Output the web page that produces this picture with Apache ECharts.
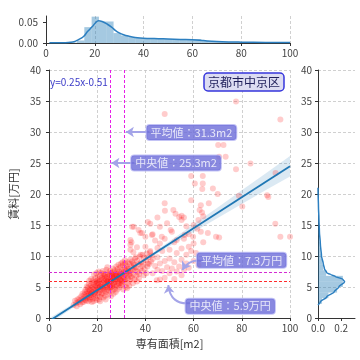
<!DOCTYPE html>
<html><head><meta charset="utf-8">
<script src="https://cdn.jsdelivr.net/npm/echarts@6/dist/echarts.min.js"></script>
<style>html,body{margin:0;padding:0;background:#fff}#c{width:360px;height:360px}</style>
</head><body><div id="c"></div><script>
// ---- data ----
const clusterPoints = [
[10.2,2.1],[10.8,2.8],[11.3,2.4],[11.8,3.0],[11.5,1.9],[12.2,2.6],[12.6,3.2],[12.9,2.2],
[13.1,2.9],[13.4,3.5],[13.7,2.5],[13.9,3.9],[14.1,3.1],[14.3,2.6],[14.6,3.7],[14.8,4.2],[14.9,2.9],
[15.0,3.4],[15.2,4.6],[15.4,2.8],[15.5,3.9],[15.7,5.1],[15.8,3.2],[15.9,4.3],
[16.0,3.6],[16.1,4.9],[16.3,2.7],[16.4,4.1],[16.5,5.5],[16.6,3.3],[16.8,4.6],[16.9,3.9],[16.7,6.0],
[17.0,3.0],[17.1,4.4],[17.2,5.2],[17.3,3.7],[17.5,6.3],[17.6,4.0],[17.7,4.8],[17.8,2.6],[17.9,5.6],[17.4,3.4],
[18.0,4.2],[18.1,5.0],[18.2,3.1],[18.3,6.1],[18.4,4.6],[18.5,3.6],[18.6,5.4],[18.7,7.0],[18.8,4.0],[18.9,5.8],[18.5,2.7],
[19.0,3.8],[19.1,4.8],[19.2,6.4],[19.3,3.2],[19.4,5.2],[19.5,4.4],[19.6,7.2],[19.7,5.6],[19.8,2.9],[19.9,6.0],[19.3,4.1],
[20.0,5.0],[20.1,3.5],[20.2,6.6],[20.3,4.5],[20.4,5.4],[20.5,7.5],[20.6,4.0],[20.7,5.9],[20.8,3.0],[20.9,6.3],[20.5,4.8],[20.2,5.7],
[21.0,4.2],[21.1,6.8],[21.2,5.1],[21.3,3.4],[21.4,6.0],[21.5,4.6],[21.6,7.3],[21.7,5.5],[21.8,3.8],[21.9,6.5],[21.4,5.0],[21.2,2.7],
[22.0,5.3],[22.1,4.0],[22.2,6.2],[22.3,7.6],[22.4,4.8],[22.5,5.7],[22.6,3.3],[22.7,6.8],[22.8,4.4],[22.9,5.9],[22.5,7.1],[22.3,5.0],
[23.0,4.6],[23.1,6.4],[23.2,5.4],[23.3,3.6],[23.4,7.0],[23.5,5.0],[23.6,6.1],[23.7,4.2],[23.8,7.8],[23.9,5.7],[23.5,3.0],[23.2,6.7],
[24.0,5.2],[24.1,6.6],[24.2,4.5],[24.3,5.9],[24.4,7.3],[24.5,3.8],[24.6,6.3],[24.7,5.5],[24.8,4.9],[24.9,7.0],[24.4,6.0],[24.2,8.2],
[25.0,5.8],[25.1,4.3],[25.2,6.9],[25.3,5.3],[25.4,7.6],[25.5,4.8],[25.6,6.2],[25.7,3.5],[25.8,5.9],[25.9,7.2],[25.5,6.5],[25.3,5.0],
[26.0,6.0],[26.1,5.0],[26.2,7.0],[26.3,4.4],[26.4,6.6],[26.5,8.0],[26.6,5.6],[26.7,6.3],[26.8,3.9],[26.9,7.4],[26.4,5.3],[26.2,6.8],
[27.0,5.4],[27.1,6.5],[27.2,7.7],[27.3,4.7],[27.4,6.1],[27.5,5.8],[27.6,7.1],[27.7,4.2],[27.8,6.8],[27.9,8.3],[27.5,5.1],[27.3,6.9],
[28.0,6.2],[28.1,5.2],[28.2,7.4],[28.3,6.7],[28.4,4.6],[28.5,7.9],[28.6,5.9],[28.7,6.4],[28.8,8.6],[28.9,5.5],[28.5,7.0],
[29.0,6.6],[29.1,5.6],[29.2,7.5],[29.3,4.9],[29.4,6.9],[29.5,8.2],[29.6,6.1],[29.7,7.2],[29.8,5.3],[29.9,8.8],[29.5,6.3],
[30.0,7.0],[30.2,6.0],[30.3,7.8],[30.4,5.4],[30.5,6.6],[30.6,8.5],[30.7,7.3],[30.8,4.6],[30.9,6.3],[30.5,9.0],[30.1,5.7],
[31.0,7.4],[31.2,6.5],[31.3,8.1],[31.4,5.8],[31.5,7.0],[31.6,8.8],[31.7,6.2],[31.8,7.7],[31.9,5.0],[31.5,9.3],
[32.0,7.2],[32.2,8.4],[32.3,6.8],[32.5,7.9],[32.6,5.6],[32.7,9.0],[32.8,6.4],[32.9,7.5],[32.4,4.8],
[33.0,8.0],[33.2,7.0],[33.4,8.7],[33.5,6.1],[33.6,7.6],[33.8,9.4],[33.9,6.7],[33.3,5.2],
[34.0,7.3],[34.2,8.3],[34.4,6.5],[34.5,9.1],[34.7,7.8],[34.8,5.6],[34.9,8.8],
[35.0,7.0],[35.3,8.6],[35.5,6.2],[35.7,9.6],[35.9,7.7],[35.4,8.1],
[36.1,8.2],[36.3,6.8],[36.6,9.2],[36.8,7.4],[36.5,5.9],
[37.1,8.7],[37.4,7.1],[37.7,9.9],[37.9,8.0],[37.3,6.4],
[38.2,9.0],[38.5,7.6],[38.8,10.2],[38.6,8.4],
[39.1,8.8],[39.4,9.7],[39.7,7.9],[39.3,6.9],
[40.2,9.3],[40.5,10.4],[40.8,8.3],[40.4,7.2],
[41.3,9.8],[41.6,8.7],[41.9,10.6],[42.3,9.1],[42.7,10.1]
];
const sparsePoints = [
[48,32.9],[77.6,34.9],[96,32],[70.2,27.9],[72.4,27.9],[70.6,26],[73.3,26],[83.6,24.9],[77.6,24],[94,23.4],
[59,22.9],[63.8,22.9],[60.5,21.7],[63.8,21.7],[68,20.9],[63.6,20.8],[70,20],[66.3,18.5],[90.5,19.8],[91,19.5],
[78.8,19.7],[80.2,18],[93.9,15.2],[96,13.1],[100,13.1],[69.3,13.1],[63,18.2],[59,19],[48,18.5],[48.1,17.3],
[51.6,17.4],[52.5,16.8],[55,16.5],[56,16.2],[62.5,17.4],[63.5,17],[64,16.4],[54,16.3],[55,15.8],[41,15.5],
[42,15.2],[46,14.7],[50.5,14.2],[51,13.9],[63,13.9],[61.5,14.4],[70.6,13],[53,12.6],[37.2,14.2],[34.5,14.7],
[35.2,14.7],[37.9,13.7],[38.6,13.7],[43,13.5],[33.8,12.6],[33.8,11.8],[33.8,11],[44,12.5],[46,12],[48,12.8],
[52,12.2],[56,12.8],[58,11.5],[60,12],[45,11.3],[47,10.8],[50,11],[53,10.5],[55,11.2],[57,10.2],
[59,10.8],[61,10.5],[40,11.5],[42,10.8],[38,10.2],[36,9.8],[43,9.5],[45,9.8],[48,9.2],[50,9.6],
[52,9],[55,9.4],[57,8.8],[60,9.2],[62,8.5],[41,8.8],[44,8.4],[46,8.8],[49,8.2],[51,8],
[54,8.3],[56,7.8],[58,8.1],[47,7.6],[50,7.2],[53,7.5],[55,6.9],[44.7,6.1],[46,6.2],[48,6.5],
[52,6.3],[43,7.2],[45,7.8],[64,12.2],[58,13.5],[60,15],[45,16.2],[49,15.3],[57,14.8],[62,15.8],
[40,13.1],[42.7,13.4],[46.8,13.1],[56.3,13.4],[59.8,13.1],[65.9,13.7],[34.2,12.2],[35,10.6],[36.5,11.4]
];
// histogram of area: [from, to, density]
const areaHistBins = [
[9.7,12.7,0.001],[12.7,15.7,0.006],[15.7,18.7,0.0376],[18.7,21.7,0.0625],[21.7,24.7,0.051],[24.7,27.7,0.051],
[27.7,30.7,0.0235],[30.7,33.7,0.018],[33.7,36.7,0.014],[36.7,39.7,0.012],[39.7,42.7,0.011],[42.7,45.7,0.0105],
[45.7,48.7,0.010],[48.7,51.7,0.0095],[51.7,54.7,0.009],[54.7,57.7,0.0085],[57.7,60.7,0.008],[60.7,63.7,0.0094],
[63.7,66.7,0.0054],[66.7,69.7,0.004],[69.7,72.7,0.003],[72.7,75.7,0.0025],[75.7,78.7,0.0022],[78.7,81.7,0.002],
[81.7,84.7,0.0016],[84.7,87.7,0.0014],[87.7,90.7,0.0012],[90.7,93.7,0.0013],[93.7,96.7,0.0011],[96.7,99.7,0.001]
];
const areaKde = [
[1.4,0.0005],[5,0.0006],[8,0.0008],[10,0.0015],[11.5,0.003],[13,0.007],[15.4,0.0155],[17,0.027],[19,0.039],
[20.3,0.048],[21.5,0.053],[23,0.051],[25,0.045],[27,0.037],[28.4,0.03],[30,0.024],[31.8,0.0195],[34,0.016],
[36.5,0.013],[38.6,0.0117],[42,0.0108],[46,0.0102],[50,0.0095],[55,0.0085],[60,0.0078],[63,0.0068],[66,0.005],
[70,0.0035],[75,0.0025],[80,0.002],[90,0.0013],[100,0.001]
];
// histogram of rent: [from, to, density]
const rentHistBins = [
[2.3,3.2,0.035],[3.2,4.1,0.09],[4.1,5.0,0.165],[5.0,5.9,0.215],[5.9,6.8,0.215],[6.8,7.7,0.07],[7.7,8.6,0.045],
[8.6,9.5,0.035],[9.5,10.4,0.025],[10.4,11.3,0.02],[11.3,12.2,0.015],[12.2,13.1,0.012],[13.1,14.0,0.01],
[14.0,14.9,0.008],[14.9,15.8,0.007],[15.8,16.7,0.005],[16.7,17.6,0.004],[17.6,18.5,0.003],[18.5,19.4,0.002],[19.4,20.3,0.0015]
];
// rent KDE: [density, rent]
const rentKde = [
[0,2.1],[0.02,2.6],[0.075,3.4],[0.14,4.24],[0.18,5.0],[0.23,5.86],[0.215,6.24],[0.15,6.7],[0.11,7.0],[0.075,7.3],
[0.055,8.0],[0.045,8.8],[0.03,10],[0.02,12],[0.012,14],[0.008,16],[0.004,18],[0.001,20],[0,21]
];
const slope = 0.25, intercept = -0.51;
const regLine = [[0,-0.51],[100,24.49]];
const bandX    = [0,10,20,31,40,50,60,70,80,90,100];
const bandLow  = [-0.96,1.67,4.29,7.12,9.29,11.59,13.87,16.14,18.39,20.64,22.84];
const bandHigh = [-0.06,2.31,4.69,7.36,9.69,12.39,15.11,17.84,20.59,23.34,26.14];
const meanArea = 31.3, medianArea = 25.3, meanRent = 7.3, medianRent = 5.9;
const regionName = '京都市中京区';

// ---- chart ----
const FONT = "'Noto Sans CJK JP','Noto Sans',sans-serif";
const axisLine = {show:true, lineStyle:{color:'#333', width:1}};
const axisTick = {show:true, length:3, lineStyle:{color:'#333'}};
const split = {show:true, lineStyle:{type:[3,2], color:'#c4c4c4', width:0.8}};
const lbl = (m) => ({color:'#444', fontSize:10, fontFamily:FONT, margin:m});

const chart = echarts.init(document.getElementById('c'), null, {renderer:'canvas'});

const annLabel = {
  show:true, position:'inside', color:'#fff', fontSize:11, fontFamily:FONT,
  backgroundColor:'#6b6bd8', borderColor:'#b4b4f2', borderWidth:1, borderRadius:3, padding:[2,4]
};

const option = {
  animation:false,
  backgroundColor:'#fff',
  textStyle:{fontFamily:FONT},
  title:[
    {text:regionName, right:76, top:73, padding:[3,4,3,4],
     backgroundColor:'#dcdcf2', borderColor:'#3636dc', borderWidth:1.5, borderRadius:4,
     textStyle:{fontSize:12, fontWeight:'normal', color:'#1e1e5a', fontFamily:FONT}},
    {text:'y=' + slope + 'x' + intercept, left:50, top:77, padding:0,
     textStyle:{fontSize:10, fontWeight:'normal', color:'#3c3cc8', fontFamily:FONT}}
  ],
  grid:[
    {left:46, right:70, top:70, bottom:42},
    {left:46, right:70, top:16, bottom:317},
    {left:318, right:5, top:70, bottom:42}
  ],
  xAxis:[
    {gridIndex:0, type:'value', min:0, max:100, interval:20,
     name:'専有面積[m2]', nameLocation:'middle', nameGap:19,
     nameTextStyle:{fontSize:11, color:'#333', fontFamily:FONT},
     axisLine, axisTick, axisLabel:lbl(5), splitLine:split},
    {gridIndex:1, type:'value', min:0, max:100, interval:20,
     axisLine, axisTick, axisLabel:lbl(5), splitLine:split},
    {gridIndex:2, type:'value', min:0, max:0.32,
     axisLine, axisTick:Object.assign({}, axisTick, {customValues:[0,0.2]}),
     axisLabel:Object.assign(lbl(5), {customValues:[0,0.2], formatter:v=>v.toFixed(1)}),
     splitLine:{show:false}}
  ],
  yAxis:[
    {gridIndex:0, type:'value', min:0, max:40, interval:5,
     name:'賃料[万円]', nameLocation:'middle', nameGap:25,
     nameTextStyle:{fontSize:11, color:'#333', fontFamily:FONT},
     axisLine, axisTick, axisLabel:lbl(8), splitLine:split},
    {gridIndex:1, type:'value', min:0, max:0.064,
     axisLine, axisTick:Object.assign({}, axisTick, {customValues:[0,0.05]}),
     axisLabel:Object.assign(lbl(8), {customValues:[0,0.05], formatter:v=>v.toFixed(2)}),
     splitLine:{show:false}},
    {gridIndex:2, type:'value', min:0, max:40, interval:5,
     axisLine, axisTick, axisLabel:lbl(6), splitLine:split}
  ],
  series:[
    // confidence band
    {type:'custom', xAxisIndex:0, yAxisIndex:0, clip:true, z:2, silent:true,
     data:[[0,0]],
     renderItem:(params, api) => {
       const up = bandX.map((x,i)=>api.coord([x,bandHigh[i]]));
       const lo = bandX.map((x,i)=>api.coord([x,bandLow[i]])).reverse();
       return {type:'polygon', shape:{points:up.concat(lo)}, style:{fill:'rgba(31,119,180,0.16)'}};
     }},
    // scatter
    {type:'scatter', xAxisIndex:0, yAxisIndex:0, z:3, symbolSize:6, data:clusterPoints,
     itemStyle:{color:'#ff0000', opacity:0.22}},
    {type:'scatter', xAxisIndex:0, yAxisIndex:0, z:3, symbolSize:6, data:sparsePoints,
     itemStyle:{color:'#ff0000', opacity:0.2}},
    // reference lines
    {type:'line', xAxisIndex:0, yAxisIndex:0, z:4, data:[], silent:true,
     markLine:{symbol:'none', silent:true, label:{show:false}, animation:false,
       data:[
         {xAxis:medianArea, lineStyle:{color:'#e61ee6', type:[3,2], width:1}},
         {xAxis:meanArea, lineStyle:{color:'#e61ee6', type:[3,2], width:1}},
         {yAxis:meanRent, lineStyle:{color:'#d42ad4', type:[3,2], width:1}},
         {yAxis:medianRent, lineStyle:{color:'#ff2a2a', type:[3,2], width:1}}
       ]}},
    // regression line
    {type:'line', xAxisIndex:0, yAxisIndex:0, z:4, data:regLine, showSymbol:false, symbol:'none',
     lineStyle:{color:'#1f77b4', width:1.8}},
    // annotation arrows
    {type:'lines', coordinateSystem:'cartesian2d', xAxisIndex:0, yAxisIndex:0, z:5, silent:true,
     symbol:['none','arrow'], symbolSize:[0,8],
     lineStyle:{color:'#a4a4e8', width:2, opacity:1},
     data:[
       {coords:[[41.7,30],[31.9,30]], lineStyle:{curveness:0}},
       {coords:[[35.4,25],[25.9,25]], lineStyle:{curveness:0}},
       {coords:[[63.9,9.2],[55.3,7.75]], lineStyle:{curveness:-0.35}},
       {coords:[[58.7,2.4],[49.5,5.3]], lineStyle:{curveness:0.5}}
     ]},
    // annotation boxes
    {type:'scatter', xAxisIndex:0, yAxisIndex:0, z:6, symbolSize:1, silent:true,
     itemStyle:{color:'transparent'}, label:annLabel,
     data:[
       {value:[59.1,29.9], label:{formatter:'平均値：' + meanArea + 'm2'}},
       {value:[52.7,25.0], label:{formatter:'中央値：' + medianArea + 'm2'}},
       {value:[79.9,9.3], label:{formatter:'平均値：' + meanRent + '万円'}},
       {value:[75.2,1.9], label:{formatter:'中央値：' + medianRent + '万円'}}
     ]},
    // top histogram
    {type:'custom', xAxisIndex:1, yAxisIndex:1, z:2, silent:true, data:areaHistBins,
     encode:{x:[0,1], y:2},
     renderItem:(params, api) => {
       const p0 = api.coord([api.value(0), api.value(2)]);
       const p1 = api.coord([api.value(1), 0]);
       return {type:'rect', shape:{x:p0[0], y:p0[1], width:p1[0]-p0[0], height:p1[1]-p0[1]},
               style:{fill:'rgba(31,119,180,0.4)'}};
     }},
    {type:'line', xAxisIndex:1, yAxisIndex:1, z:3, data:areaKde, showSymbol:false, symbol:'none', smooth:0.4,
     lineStyle:{color:'#2c7fc0', width:1.5}},
    // right histogram
    {type:'custom', xAxisIndex:2, yAxisIndex:2, z:2, silent:true, data:rentHistBins,
     encode:{y:[0,1], x:2},
     renderItem:(params, api) => {
       const p0 = api.coord([0, api.value(1)]);
       const p1 = api.coord([api.value(2), api.value(0)]);
       return {type:'rect', shape:{x:p0[0], y:p0[1], width:p1[0]-p0[0], height:p1[1]-p0[1]},
               style:{fill:'rgba(31,119,180,0.4)'}};
     }},
    {type:'line', xAxisIndex:2, yAxisIndex:2, z:3, data:rentKde, showSymbol:false, symbol:'none', smooth:0.3,
     smoothMonotone:'y', lineStyle:{color:'#2c7fc0', width:1.5}}
  ]
};
chart.setOption(option);
</script></body></html>
